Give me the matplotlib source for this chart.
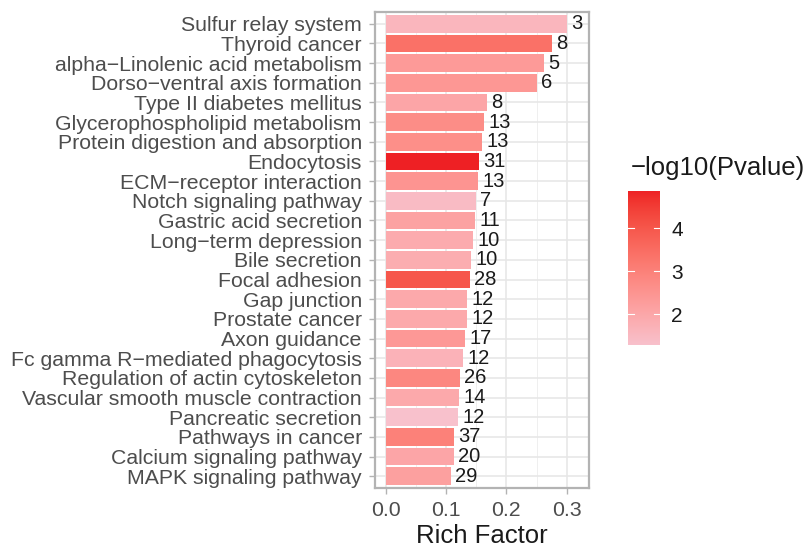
import matplotlib
matplotlib.use("Agg")
import matplotlib.pyplot as plt
import numpy as np
from matplotlib.colors import ListedColormap, Normalize, to_rgb

plt.rcParams['font.family'] = ['Liberation Sans', 'DejaVu Sans']

M = "\u2212"
pathways = [
    "Sulfur relay system", "Thyroid cancer", f"alpha{M}Linolenic acid metabolism",
    f"Dorso{M}ventral axis formation", "Type II diabetes mellitus",
    "Glycerophospholipid metabolism", "Protein digestion and absorption",
    "Endocytosis", f"ECM{M}receptor interaction", "Notch signaling pathway",
    "Gastric acid secretion", f"Long{M}term depression", "Bile secretion",
    "Focal adhesion", "Gap junction", "Prostate cancer", "Axon guidance",
    f"Fc gamma R{M}mediated phagocytosis", "Regulation of actin cytoskeleton",
    "Vascular smooth muscle contraction", "Pancreatic secretion",
    "Pathways in cancer", "Calcium signaling pathway", "MAPK signaling pathway",
]
rich_factor = [0.300, 0.276, 0.263, 0.250, 0.167, 0.163, 0.160, 0.155, 0.153,
               0.149, 0.148, 0.145, 0.141, 0.140, 0.135, 0.135, 0.132, 0.128,
               0.123, 0.122, 0.120, 0.1135, 0.1135, 0.1085]
gene_count = [3, 8, 5, 6, 8, 13, 13, 31, 13, 7, 11, 10, 10, 28, 12, 12, 17, 12,
              26, 14, 12, 37, 20, 29]
neg_log10_p = [1.6, 3.4, 2.35, 2.45, 2.05, 2.7, 2.65, 4.87, 2.5, 1.45, 2.15,
               1.9, 1.85, 4.0, 1.95, 1.95, 2.4, 1.7, 2.85, 1.95, 1.29, 3.0,
               2.05, 2.2]
low_colour, high_colour = "#F8C1CC", "#EE2024"


# --- gradient interpolated in CIE Lab space ---
def srgb_to_lab(rgb):
    c = np.asarray(rgb, dtype=float)
    lin = np.where(c <= 0.04045, c / 12.92, ((c + 0.055) / 1.055) ** 2.4)
    mat = np.array([[0.4124, 0.3576, 0.1805],
                    [0.2126, 0.7152, 0.0722],
                    [0.0193, 0.1192, 0.9505]])
    xyz = mat @ lin / np.array([0.95047, 1.0, 1.08883])
    f = np.where(xyz > 0.008856, np.cbrt(xyz), 7.787 * xyz + 16 / 116)
    return np.array([116 * f[1] - 16, 500 * (f[0] - f[1]), 200 * (f[1] - f[2])])


def lab_to_srgb(lab):
    L, a, b = lab
    fy = (L + 16) / 116
    fx = fy + a / 500
    fz = fy - b / 200
    f = np.array([fx, fy, fz])
    xyz = np.where(f ** 3 > 0.008856, f ** 3, (f - 16 / 116) / 7.787)
    xyz = xyz * np.array([0.95047, 1.0, 1.08883])
    inv = np.array([[3.2406, -1.5372, -0.4986],
                    [-0.9689, 1.8758, 0.0415],
                    [0.0557, -0.2040, 1.0570]])
    lin = inv @ xyz
    c = np.where(lin <= 0.0031308, 12.92 * lin,
                 1.055 * np.clip(lin, 0, None) ** (1 / 2.4) - 0.055)
    return np.clip(c, 0, 1)


lab_lo = srgb_to_lab(to_rgb(low_colour))
lab_hi = srgb_to_lab(to_rgb(high_colour))
cmap = ListedColormap([lab_to_srgb(lab_lo + t * (lab_hi - lab_lo))
                       for t in np.linspace(0, 1, 256)])

W, H = 809, 548
fig = plt.figure(figsize=(W / 100, H / 100), dpi=100)


def px_axes(l, t, r, b):
    return fig.add_axes([l / W, 1 - b / H, (r - l) / W, (b - t) / H])


ax = px_axes(375, 12, 589, 488)

vmin, vmax = min(neg_log10_p), max(neg_log10_p)
norm = Normalize(vmin=vmin, vmax=vmax)

n = len(pathways)
ypos = np.arange(n)[::-1]
ax.barh(ypos, rich_factor, height=0.9, color=cmap(norm(np.array(neg_log10_p))),
        zorder=3)
for y, v, c in zip(ypos, rich_factor, gene_count):
    ax.annotate(str(c), (v, y), xytext=(3.0, 0), textcoords="offset points",
                ha="left", va="center", fontsize=14.5, color="#1A1A1A",
                zorder=4)

ax.set_xlim(-0.018, 0.337)
ax.set_ylim(-0.6, n - 1 + 0.6)
ax.set_yticks(ypos)
ax.set_yticklabels(pathways, fontsize=15.3, color="#4D4D4D")
ax.set_xticks([0.0, 0.1, 0.2, 0.3])
ax.set_xticklabels(["0.0", "0.1", "0.2", "0.3"], fontsize=15.3, color="#4D4D4D")
ax.set_xticks([0.05, 0.15, 0.25], minor=True)
ax.tick_params(axis="both", which="major", length=4, color="#B3B3B3", width=1)
ax.tick_params(axis="y", which="major", pad=5.5)
ax.tick_params(axis="x", which="major", pad=5)
ax.tick_params(axis="x", which="minor", length=0)
ax.grid(True, which="major", color="#E6E6E6", linewidth=1.1, zorder=0)
ax.grid(True, which="minor", axis="x", color="#EDEDED", linewidth=0.6, zorder=0)
ax.set_axisbelow(True)
for s in ax.spines.values():
    s.set_color("#B3B3B3")
    s.set_linewidth(1.6)
ax.set_xlabel("Rich Factor", fontsize=18.5, color="#1A1A1A", labelpad=3)

# colour bar legend
cax = px_axes(628, 191, 660, 345)
grad = np.linspace(vmin, vmax, 256).reshape(-1, 1)
cax.imshow(grad, aspect="auto", cmap=cmap, norm=norm, origin="lower",
           extent=[0, 1, vmin, vmax])
cax.set_xlim(0, 1)
cax.set_ylim(vmin, vmax)
cax.set_xticks([])
cax.yaxis.tick_right()
cax.set_yticks([2, 3, 4])
cax.set_yticklabels(["2", "3", "4"], fontsize=15, color="#1A1A1A")
cax.tick_params(axis="y", length=0, pad=8)
for t in [2, 3, 4]:
    cax.plot([0, 0.2], [t, t], color="white", lw=0.8)
    cax.plot([0.8, 1], [t, t], color="white", lw=0.8)
for s in cax.spines.values():
    s.set_visible(False)
fig.text(631 / W, 1 - 168 / H, f"{M}log10(Pvalue)", fontsize=18.5,
         color="#1A1A1A", ha="left", va="center")

fig.savefig("out.png", dpi=100, facecolor="white")
